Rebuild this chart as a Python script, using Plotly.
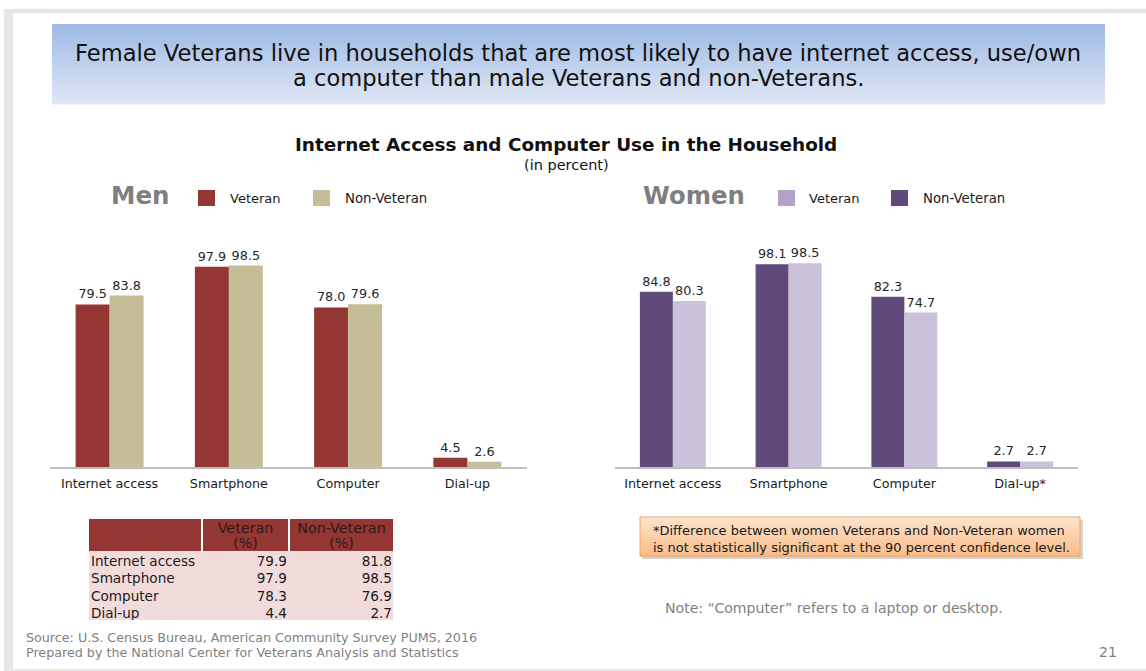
import plotly.graph_objects as go

# ---- data ----
categories_men = ["Internet access", "Smartphone", "Computer", "Dial-up"]
men_veteran = [79.5, 97.9, 78.0, 4.5]
men_nonveteran = [83.8, 98.5, 79.6, 2.6]

categories_women = ["Internet access", "Smartphone", "Computer", "Dial-up*"]
women_dark = [84.8, 98.1, 82.3, 2.7]
women_light = [80.3, 98.5, 74.7, 2.7]

table_rows = ["Internet access", "Smartphone", "Computer", "Dial-up"]
table_veteran = [79.9, 97.9, 78.3, 4.4]
table_nonveteran = [81.8, 98.5, 76.9, 2.7]
table_columns = ["Veteran", "Non-Veteran"]

W, H = 1146, 671
FONT = "DejaVu Sans"


def px(x):
    return x / W


def py(y):
    return 1 - y / H


C_MEN_VET = "#943634"
C_MEN_NON = "#c4bd97"
C_WOM_DARK = "#604a7b"
C_WOM_LIGHT = "#ccc1da"
C_TABLE_BODY = "#f2dcdb"

fig = go.Figure()

bar_text = dict(family=FONT, size=12.8, color="#262626")


def add_bars(x, y, color, xa, ya):
    fig.add_trace(go.Bar(
        x=x, y=y, marker=dict(color=color, line=dict(width=0)),
        texttemplate="%{y:.1f}", textposition="outside",
        textfont=bar_text, cliponaxis=False, showlegend=False,
        xaxis=xa, yaxis=ya, hoverinfo="skip"))


add_bars(categories_men, men_veteran, C_MEN_VET, "x", "y")
add_bars(categories_men, men_nonveteran, C_MEN_NON, "x", "y")
add_bars(categories_women, women_dark, C_WOM_DARK, "x2", "y2")
add_bars(categories_women, women_light, C_WOM_LIGHT, "x2", "y2")

# ---- summary table, laid out on its own axis pair (units = pixels) ----
TBL_W, HDR_H, ROW_H = 304, 32, 17.25
col_edges = [0, 112, 114, 199, 201, TBL_W]   # label | veteran | non-veteran
n_rows = len(table_rows)
TBL_H = HDR_H + ROW_H * n_rows
row_y = [HDR_H + ROW_H * (i + 0.5) + 3 for i in range(n_rows)]
tbl_font = dict(family=FONT, size=13.6, color="#1a1a1a")

fig.add_trace(go.Scatter(
    x=[2] * n_rows, y=row_y, text=table_rows, mode="text",
    textposition="middle right", textfont=tbl_font,
    xaxis="x3", yaxis="y3", hoverinfo="skip", showlegend=False))
fig.add_trace(go.Scatter(
    x=[col_edges[3] - 1] * n_rows, y=row_y,
    text=["%.1f" % v for v in table_veteran], mode="text",
    textposition="middle left", textfont=tbl_font,
    xaxis="x3", yaxis="y3", hoverinfo="skip", showlegend=False))
fig.add_trace(go.Scatter(
    x=[col_edges[5] - 1] * n_rows, y=row_y,
    text=["%.1f" % v for v in table_nonveteran], mode="text",
    textposition="middle left", textfont=tbl_font,
    xaxis="x3", yaxis="y3", hoverinfo="skip", showlegend=False))
hdr_x = [(col_edges[2] + col_edges[3]) / 2, (col_edges[4] + col_edges[5]) / 2]
fig.add_trace(go.Scatter(
    x=hdr_x * 2, y=[10] * 2 + [25.5] * 2,
    text=table_columns + ["(%)"] * 2, mode="text",
    textposition="middle center",
    textfont=dict(family=FONT, size=14.3, color="#2b1a1a"),
    xaxis="x3", yaxis="y3", hoverinfo="skip", showlegend=False))

axis_common = dict(showgrid=False, zeroline=False, showline=True,
                   linecolor="#bfbfbf", linewidth=1.5, ticks="",
                   ticklabelstandoff=4,
                   tickfont=dict(family=FONT, size=12.7, color="#1a1a1a"),
                   fixedrange=True)
yaxis_common = dict(visible=False, range=[0, 110], fixedrange=True)

shapes = []
# slide frame
shapes.append(dict(type="rect", xref="paper", yref="paper",
                   x0=px(4), x1=1, y0=0, y1=py(9),
                   fillcolor="#e6e6e6", line=dict(width=0), layer="below"))
shapes.append(dict(type="rect", xref="paper", yref="paper",
                   x0=px(13), x1=1, y0=py(669), y1=py(13),
                   fillcolor="white", line=dict(width=0), layer="below"))

# header banner with vertical gradient
top_c = (158, 185, 228)
bot_c = (223, 231, 245)
n = 40
y_top, y_bot = 24, 104
for i in range(n):
    t = i / (n - 1)
    c = tuple(round(top_c[k] + (bot_c[k] - top_c[k]) * t) for k in range(3))
    ya = y_top + (y_bot - y_top) * i / n
    yb = y_top + (y_bot - y_top) * (i + 1) / n + 0.6
    shapes.append(dict(type="rect", xref="paper", yref="paper",
                       x0=px(52), x1=px(1105), y0=py(yb), y1=py(ya),
                       fillcolor="rgb(%d,%d,%d)" % c, line=dict(width=0),
                       layer="below"))

# footnote box (shadow, gradient, border)
shapes.append(dict(type="rect", xref="paper", yref="paper",
                   x0=px(642), x1=px(1083), y0=py(559), y1=py(520),
                   fillcolor="rgba(0,0,0,0.18)", line=dict(width=0),
                   layer="below"))
o_top = (253, 228, 205)
o_bot = (250, 188, 136)
for i in range(n):
    t = i / (n - 1)
    c = tuple(round(o_top[k] + (o_bot[k] - o_top[k]) * t) for k in range(3))
    ya = 517 + (556 - 517) * i / n
    yb = 517 + (556 - 517) * (i + 1) / n + 0.6
    shapes.append(dict(type="rect", xref="paper", yref="paper",
                       x0=px(640), x1=px(1080), y0=py(yb), y1=py(ya),
                       fillcolor="rgb(%d,%d,%d)" % c, line=dict(width=0),
                       layer="below"))
shapes.append(dict(type="rect", xref="paper", yref="paper",
                   x0=px(640), x1=px(1080), y0=py(556), y1=py(517),
                   fillcolor="rgba(0,0,0,0)", line=dict(color="#f5a25d", width=1)))

# table backgrounds
shapes.append(dict(type="rect", xref="x3", yref="y3", x0=0, x1=TBL_W,
                   y0=HDR_H, y1=TBL_H, fillcolor=C_TABLE_BODY,
                   line=dict(width=0), layer="below"))
for a, b in [(0, 1), (2, 3), (4, 5)]:
    shapes.append(dict(type="rect", xref="x3", yref="y3",
                       x0=col_edges[a], x1=col_edges[b], y0=0, y1=HDR_H,
                       fillcolor=C_MEN_VET, line=dict(width=0), layer="below"))


# legend swatches
def swatch(x, color):
    shapes.append(dict(type="rect", xref="paper", yref="paper",
                       x0=px(x), x1=px(x + 17), y0=py(206), y1=py(190),
                       fillcolor=color, line=dict(width=0)))


swatch(198, C_MEN_VET)
swatch(313, C_MEN_NON)
swatch(778, "#b3a2c7")
swatch(891, C_WOM_DARK)

annotations = []


def note(text, x, y, size, color="#1a1a1a", anchor="left", bold=False, **kw):
    if bold:
        text = "<b>%s</b>" % text
    annotations.append(dict(text=text, x=px(x), y=py(y), xref="paper",
                            yref="paper", xanchor=anchor, yanchor="middle",
                            showarrow=False,
                            font=dict(family=FONT, size=size, color=color), **kw))


note("Female Veterans live in households that are most likely to have internet access, use/own",
     578, 53, 22.6, color="#111111", anchor="center")
note("a computer than male Veterans and non-Veterans.",
     578, 78, 22.6, color="#111111", anchor="center")
note("Internet Access and Computer Use in the Household", 566, 144, 18.4,
     color="#111111", anchor="center", bold=True)
note("(in percent)", 566, 165, 14.5, color="#111111", anchor="center")

note("Men", 109, 196, 24.5, color="#7f7f7f", bold=True)
note("Veteran", 228, 199, 13)
note("Non-Veteran", 343, 199, 13.3)
note("Women", 641, 196, 24.3, color="#7f7f7f", bold=True)
note("Veteran", 807, 199, 13)
note("Non-Veteran", 921, 199, 13.3)

note("*Difference between women Veterans and Non-Veteran women<br>"
     "is not statistically significant at the 90 percent confidence level.",
     651, 538.5, 13, align="left")
note("Note: \u201cComputer\u201d refers to a laptop or desktop.", 663, 608, 14.1,
     color="#7f7f7f")
note("Source: U.S. Census Bureau, American Community Survey PUMS, 2016",
     24, 637, 12.7, color="#7f7f7f")
note("Prepared by the National Center for Veterans Analysis and Statistics",
     24, 652, 12.7, color="#7f7f7f")
note("21", 1119, 652, 14, color="#7f7f7f", anchor="right")

fig.update_layout(
    width=W, height=H, margin=dict(l=0, r=0, t=0, b=0),
    paper_bgcolor="white", plot_bgcolor="rgba(0,0,0,0)",
    barmode="group", bargap=0.43, bargroupgap=0,
    xaxis=dict(domain=[px(50), px(527)], anchor="y", **axis_common),
    yaxis=dict(domain=[py(467), py(242)], anchor="x", **yaxis_common),
    xaxis2=dict(domain=[px(615), px(1078)], anchor="y2", **axis_common),
    yaxis2=dict(domain=[py(467), py(239.6)], anchor="x2", **yaxis_common),
    xaxis3=dict(domain=[px(89), px(89 + TBL_W)], anchor="y3",
                range=[0, TBL_W], visible=False, fixedrange=True),
    yaxis3=dict(domain=[py(519 + TBL_H), py(519)], anchor="x3",
                range=[TBL_H, 0], visible=False, fixedrange=True),
    shapes=shapes, annotations=annotations,
    showlegend=False,
)

fig.write_html("out.html")
